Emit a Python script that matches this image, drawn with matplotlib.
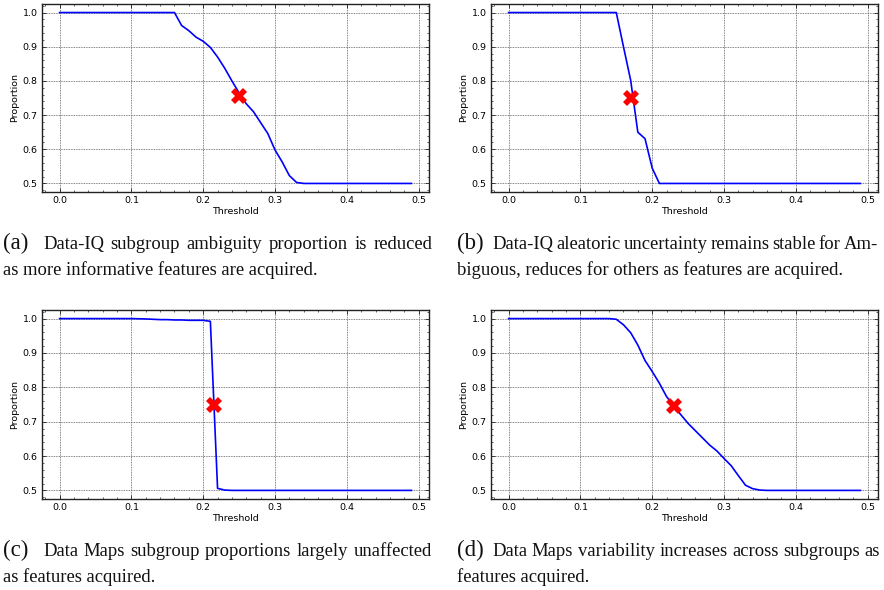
import numpy as np
import matplotlib
matplotlib.use("Agg")
import matplotlib.pyplot as plt
from matplotlib.ticker import AutoMinorLocator, MultipleLocator

# ---------------- data ----------------
threshold = [round(0.01 * i, 2) for i in range(50)]

prop_a = ([1.0] * 17 +
          [0.962, 0.947, 0.928, 0.916, 0.898, 0.870, 0.837, 0.800, 0.765,
           0.733, 0.710, 0.678, 0.646, 0.598, 0.563, 0.523, 0.503] +
          [0.500] * 16)

prop_b = ([1.0] * 16 +
          [0.900, 0.802, 0.650, 0.631, 0.545, 0.500] +
          [0.500] * 28)

prop_c = ([1.0] * 11 +
          [0.9995, 0.999, 0.998, 0.997, 0.997, 0.996, 0.996, 0.995, 0.995,
           0.995, 0.992, 0.506, 0.501] +
          [0.500] * 26)

prop_d = ([1.0] * 15 +
          [0.998, 0.982, 0.959, 0.923, 0.878, 0.846, 0.812, 0.773, 0.746,
           0.720, 0.695, 0.674, 0.653, 0.632, 0.615, 0.593, 0.572, 0.543,
           0.515, 0.505, 0.501] +
          [0.500] * 14)

marker_a = (0.25, 0.757)
marker_b = (0.17, 0.751)
marker_c = (0.215, 0.750)
marker_d = (0.23, 0.745)

x_label = "Threshold"
y_label = "Proportion"

caption_labels = ["(a)", "(b)", "(c)", "(d)"]
caption_lines = [
    ["Data-IQ subgroup ambiguity proportion is reduced",
     "as more informative features are acquired."],
    ["Data-IQ aleatoric uncertainty remains stable for Am-",
     "biguous, reduces for others as features are acquired."],
    ["Data Maps subgroup proportions largely unaffected",
     "as features acquired."],
    ["Data Maps variability increases across subgroups as",
     "features acquired."],
]

series = [prop_a, prop_b, prop_c, prop_d]
markers = [marker_a, marker_b, marker_c, marker_d]

# ---------------- figure ----------------
W, H = 884, 590
fig = plt.figure(figsize=(W / 100, H / 100), dpi=100)

# axes boxes in pixel coords: (left, top, right, bottom)
boxes = [(42, 4, 429, 192), (491, 4, 878, 192),
         (42, 310, 429, 499), (491, 310, 878, 499)]

for (l, t, r, b), ys, mk in zip(boxes, series, markers):
    ax = fig.add_axes([l / W, 1 - b / H, (r - l) / W, (b - t) / H])
    ax.plot(threshold, ys, color="#0000ff", lw=1.2, zorder=3)
    ax.plot([mk[0]], [mk[1]], marker="X", color="red", markersize=11,
            markeredgewidth=0, linestyle="none", zorder=4)
    ax.xaxis.set_major_locator(MultipleLocator(0.1))
    ax.yaxis.set_major_locator(MultipleLocator(0.1))
    ax.xaxis.set_minor_locator(AutoMinorLocator(5))
    ax.yaxis.set_minor_locator(AutoMinorLocator(5))
    ax.tick_params(which="both", direction="in", top=True, right=True,
                   labelsize=6.8, color="#222222", pad=3)
    ax.tick_params(which="major", length=3, width=0.6)
    ax.tick_params(which="minor", length=1.6, width=0.5)
    ax.grid(True, which="major", color="0.35", linestyle=(0, (1, 1)),
            linewidth=0.6)
    ax.set_axisbelow(True)
    for s in ax.spines.values():
        s.set_linewidth(1.0)
        s.set_color("#222222")
    ax.set_xlabel(x_label, fontsize=6.8, labelpad=1.5)
    ax.set_ylabel(y_label, fontsize=6.8, labelpad=3)
    ax.set_xlim(-0.0245, 0.5145)
    ax.set_ylim(0.475, 1.025)

# ---------------- captions ----------------
renderer = fig.canvas.get_renderer()
serif = "Liberation Serif"


def px_w(txt, size):
    t = fig.text(0, 0, txt, fontsize=size, family=serif)
    w = t.get_window_extent(renderer).width
    t.remove()
    return w


cap_pos = [  # label x, body x, right x, baseline y
    (3, 43, 432, 249),
    (457, 492, 878, 249),
    (3, 43, 432, 556),
    (457, 492, 880, 556),
]
line_gap = 26

# body size: largest size at which every justified first line still fits
body_size = min(10 * (rx - bx) / px_w(lines[0], 10) * 1.02
                for lines, (lx, bx, rx, by) in zip(caption_lines, cap_pos))
label_size = 16.5


def put(x, y, txt, size):
    fig.text(x / W, 1 - y / H, txt, fontsize=size, family=serif,
             va="baseline", ha="left", color="#111111")


def justified(x0, x1, y, line, size):
    words = line.split(" ")
    widths = [px_w(w_, size) for w_ in words]
    gap = (x1 - x0 - sum(widths)) / (len(words) - 1)
    x = x0
    for w_, wd in zip(words, widths):
        put(x, y, w_, size)
        x += wd + gap


for lab, lines, (lx, bx, rx, by) in zip(caption_labels, caption_lines, cap_pos):
    put(lx, by, lab, label_size)
    justified(bx, rx, by, lines[0], body_size)
    put(lx, by + line_gap, lines[1], body_size)

fig.savefig("out.png", dpi=100)
